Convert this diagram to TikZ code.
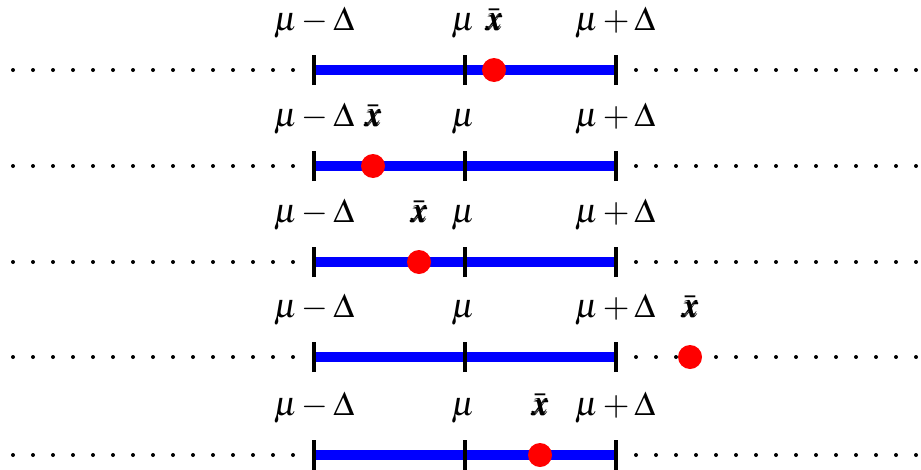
\documentclass[tikz,border=0pt]{standalone}
\usepackage{amsmath}
\usepackage{mathptmx}
\usepackage{bm}
\begin{document}
\begin{tikzpicture}[x=0.35pt,y=-0.35pt,
  dotmark/.style={fill=black},
  interval/.style={draw=blue,line width=3.2pt},
  tickmark/.style={draw=black,line width=1.4pt},
  lbl/.style={anchor=base,inner sep=0pt,font=\fontsize{12}{14}\selectfont},
  xbar/.style={fill=red}]
\useasboundingbox (0,0) rectangle (921,469);
\foreach \r/\yy/\xb in {1/70/494, 2/166/373, 3/262/419, 4/357/690, 5/455/540} {
  \foreach \k in {0,...,14} {
    \fill[dotmark] (13+20*\k,\yy) circle (0.7pt);
    \fill[dotmark] (636+20*\k,\yy) circle (0.7pt);
  }
  \coordinate (L\r) at (314,\yy);
  \coordinate (M\r) at (465,\yy);
  \coordinate (R\r) at (616,\yy);
  \draw[interval] (L\r) -- (R\r);
  \foreach \p in {L,M,R} {
    \draw[tickmark] ([yshift=-15*0.35pt]\p\r) -- ([yshift=15*0.35pt]\p\r);
  }
  \node[lbl] (tL\r) at (314,\yy-40) {$\mu-\Delta$};
  \node[lbl] (tM\r) at (463,\yy-40) {$\mu$};
  \node[lbl] (tR\r) at (615,\yy-40) {$\mu+\Delta$};
  \node[lbl] (tX\r) at (\xb,\yy-40) {$\bar{\bm{x}}$};
  \fill[xbar] (\xb,\yy) circle (4.2pt);
}
\end{tikzpicture}
\end{document}
